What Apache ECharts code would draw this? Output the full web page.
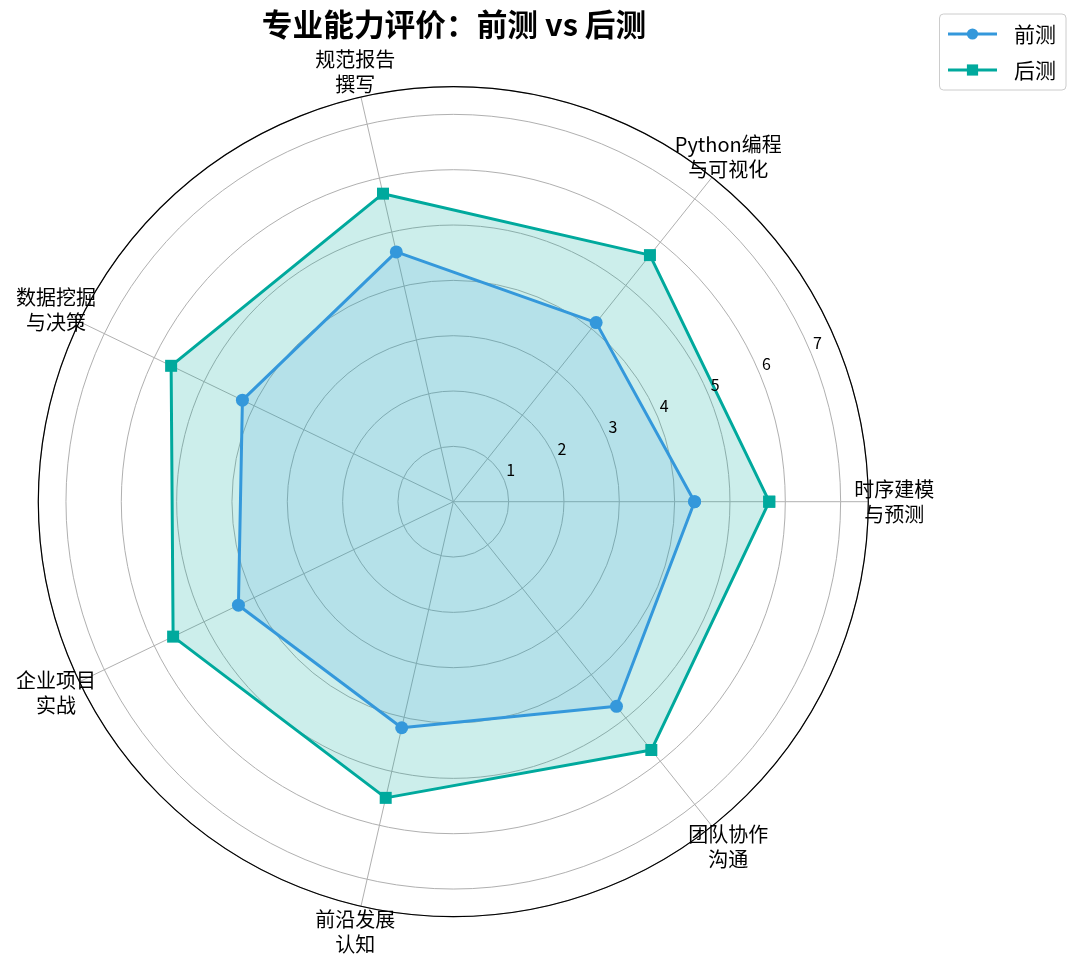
<!DOCTYPE html>
<html>
<head>
<meta charset="utf-8">
<script src="https://cdn.jsdelivr.net/npm/echarts@6/dist/echarts.min.js"></script>
<style>
  html, body { margin: 0; padding: 0; background: #fff; }
  #chart { width: 1080px; height: 970px; }
</style>
</head>
<body>
<div id="chart"></div>
<script>
// ---- data ----
const categories = ['时序建模\n与预测', 'Python编程\n与可视化', '规范报告\n撰写', '数据挖掘\n与决策', '企业项目\n实战', '前沿发展\n认知', '团队协作\n沟通'];
const preTest  = [4.36, 4.14, 4.63, 4.23, 4.31, 4.19, 4.73];
const postTest = [5.71, 5.70, 5.71, 5.66, 5.62, 5.49, 5.74];
const radialTicks = [1, 2, 3, 4, 5, 6, 7];
const seriesNames = ['前测', '后测'];
const titleText = '专业能力评价：前测 vs 后测';

const FONT = '"Noto Sans CJK SC", "Noto Sans", sans-serif';
const CENTER = [453.3, 501.7];
const RADIUS = 415;
const RMAX = 7.5;
const LABEL_PAD = 26; // px outside the outer circle

// closed polygon: index positions on angle axis (0..n), last returns to first
function toPolar(vals) {
  const pts = vals.map((v, i) => [v, i]);
  pts.push([vals[0], vals.length]);
  return pts;
}

const chart = echarts.init(document.getElementById('chart'), null, { renderer: 'canvas' });
chart.setOption({
  animation: false,
  backgroundColor: '#ffffff',
  textStyle: { fontFamily: FONT },
  title: {
    text: titleText,
    left: 454,
    top: 9,
    textAlign: 'center',
    padding: 0,
    textStyle: { fontFamily: FONT, fontSize: 30.7, fontWeight: 'bold', color: '#000' }
  },
  legend: {
    data: seriesNames,
    orient: 'vertical',
    right: 14,
    top: 14,
    itemWidth: 49,
    itemHeight: 14,
    itemGap: 10,
    padding: [7, 10, 7, 7],
    borderColor: '#cccccc',
    borderWidth: 1,
    borderRadius: 4,
    lineStyle: { width: 3 },
    textStyle: { fontFamily: FONT, fontSize: 21, color: '#000', lineHeight: 26, padding: [0, 0, 0, 12] }
  },
  polar: [
    { center: CENTER, radius: RADIUS },
    { center: CENTER, radius: RADIUS }
  ],
  angleAxis: [
    {
      polarIndex: 0,
      type: 'value',
      min: 0,
      max: categories.length,
      interval: 1,
      startAngle: 0,
      clockwise: false,
      axisLine: { show: false },
      axisTick: { show: false },
      axisLabel: { show: false },
      splitLine: { show: true, lineStyle: { color: '#b0b0b0', width: 1 } }
    },
    {
      polarIndex: 1,
      type: 'value',
      min: 0,
      max: 360,
      startAngle: 22.5,
      clockwise: false,
      z: 5,
      axisLine: { show: true, lineStyle: { color: '#000', width: 1.2 } },
      axisTick: { show: false },
      axisLabel: { show: false },
      splitLine: { show: false }
    }
  ],
  radiusAxis: [
    {
      polarIndex: 0,
      type: 'value',
      min: 0,
      max: RMAX,
      interval: 1,
      axisLine: { show: false },
      axisTick: { show: false },
      axisLabel: { show: false },
      splitLine: { show: true, lineStyle: { color: '#b0b0b0', width: 1 } }
    },
    {
      polarIndex: 1,
      type: 'value',
      min: 0,
      max: RMAX,
      interval: 1,
      z: 5,
      axisLine: { show: false },
      axisTick: { show: false },
      splitLine: { show: false },
      axisLabel: {
        show: true,
        margin: 3,
        align: 'left',
        verticalAlign: 'bottom',
        padding: [0, 0, 0, 3],
        fontFamily: FONT,
        fontSize: 16,
        color: '#000',
        showMinLabel: false,
        showMaxLabel: false,
        formatter: v => (radialTicks.indexOf(v) >= 0 ? String(v) : '')
      }
    }
  ],
  series: [
    {
      name: seriesNames[0],
      type: 'line',
      coordinateSystem: 'polar',
      polarIndex: 0,
      data: toPolar(preTest),
      symbol: 'circle',
      symbolSize: 13,
      lineStyle: { color: '#3498db', width: 3 },
      itemStyle: { color: '#3498db' },
      areaStyle: { color: '#3498db', opacity: 0.15 },
      z: 4
    },
    {
      name: seriesNames[1],
      type: 'line',
      coordinateSystem: 'polar',
      polarIndex: 0,
      data: toPolar(postTest),
      symbol: 'rect',
      symbolSize: 12,
      lineStyle: { color: '#00a99d', width: 3 },
      itemStyle: { color: '#00a99d' },
      areaStyle: { color: '#00a99d', opacity: 0.2 },
      z: 3
    }
  ]
});

// category labels centred just outside the outer circle, placed via the polar scale
const labelR = (RADIUS + LABEL_PAD) / RADIUS * RMAX;
const labelGraphics = categories.map((name, i) => {
  const p = chart.convertToPixel({ polarIndex: 0 }, [labelR, i]);
  return {
    type: 'text',
    x: p[0],
    y: p[1],
    z: 10,
    style: {
      text: name,
      align: 'center',
      verticalAlign: 'middle',
      fontFamily: FONT,
      fontSize: 20,
      lineHeight: 25,
      fill: '#000'
    }
  };
});
chart.setOption({ graphic: labelGraphics });
</script>
</body>
</html>
